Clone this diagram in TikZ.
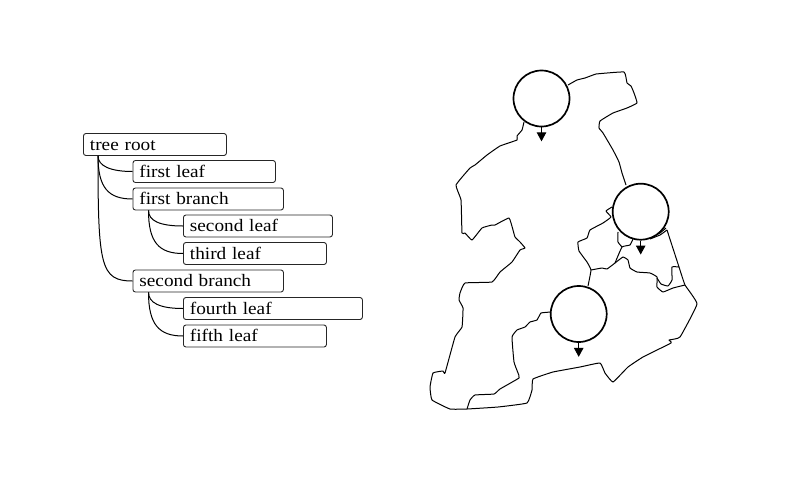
\documentclass[tikz,border=0pt]{standalone}
\usepackage{fontspec}
\setmainfont[FakeStretch=1.1]{Liberation Serif}
\usetikzlibrary{arrows.meta}
\tikzset{
  treebox/.style={draw=black!85, line width=0.9pt, rounded corners=2.5pt, anchor=west, align=left,
    inner xsep=6.5pt, inner ysep=4.5pt, text height=12.3pt, text depth=0.7pt, font=\fontsize{17.5}{20}\selectfont},
  treeline/.style={line width=1pt},
  pin/.style={circle, draw, line width=1.7pt, fill=white, inner sep=0pt, minimum size=56pt},
  pinline/.style={line width=1pt, -{Triangle[width=9.5pt,length=9pt]}},
  mapline/.style={line width=1pt, line join=round, smooth, tension=0.2}
}
\begin{document}
\begin{tikzpicture}[x=1pt,y=-1pt]
    \useasboundingbox (0,0) rectangle (794,490);

    % Arbol
    \node[treebox, text width=130pt] (root) at (83,144.5) {tree root};
    \node[treebox, text width=129.5pt] (leafa) at (132.5,171.5) {first leaf};
    \node[treebox, text width=137.5pt] (brancha) at (132.5,199) {first branch};
    \node[treebox, text width=136pt] (leafb) at (183,226) {second leaf};
    \node[treebox, text width=130pt] (leafc) at (183,253.5) {third leaf};
    \node[treebox, text width=137.5pt] (branchb) at (132.5,281) {second branch};
    \node[treebox, text width=166pt] (leafd) at (183,308.5) {fourth leaf};
    \node[treebox, text width=130pt] (leafe) at (183,336) {fifth leaf};

    % Conectores del arbol
    \foreach \from/\to/\dx/\cy/\cx in {root/leafa/15/10/22, root/brancha/15/32/24, root/branchb/15/110/32,
        brancha/leafb/16/10/24, brancha/leafc/16/32/24, branchb/leafd/16/10/24, branchb/leafe/16/32/24}
        \draw[treeline] ([xshift=\dx pt]\from.south west) .. controls +(0,\cy) and +(-\cx,0) .. (\to.west);

    % Contorno del mapa
    \draw[mapline] plot coordinates {(568,85) (577,80) (585,78) (593,75) (596,74) (624,72)
        (627,83) (631,86) (634,93) (637,103) (627,108) (613,113) (600,121) (599,128)
        (603,133) (613,150) (619,162) (622,173) (626,185)};
    \draw[mapline] plot coordinates {(524,122) (522,130) (517,136) (517,140) (500,146)
        (487,155) (475,165) (470,168) (456,185) (461,200) (462,233) (465,233) (472,240)
        (482,228) (492,225) (495,225) (509,218) (513,230) (515,237) (520,242) (525,248)
        (520,250) (512,262) (500,272) (492,282) (465,283) (460,293) (459,300) (463,308)
        (462,327) (455,337) (445,373) (443,371) (433,373) (430,387) (432,400) (450,409)
        (467,409) (498,407) (527,403) (532,390) (533,379) (553,372) (580,367) (600,363)
        (605,373) (613,382) (628,367) (643,357) (671,343) (669,340) (680,337) (697,304)
        (685,285) (679,267) (667,230)};

    % Divisiones interiores
    \draw[mapline] plot coordinates {(467,409) (470,400) (475,395) (494,394) (500,389)
        (519,378) (518,373) (514,362) (512,337) (517,330) (525,327) (530,322) (537,320)
        (541,313) (551,312)};
    \draw[mapline] plot coordinates {(588,286) (591,270) (587,262) (579,251) (578,242)
        (587,238) (590,230) (603,223) (611,217) (606,211) (612,207)};
    \draw[mapline] plot coordinates {(591,270) (602,268) (607,269) (615,263) (623,257)
        (628,260) (630,268) (637,272) (650,273) (657,277) (657,287) (663,292) (673,288) (685,285)};
    \draw[mapline] plot coordinates {(657,278) (661,284) (668,286) (672,280) (672,267) (679,267)};
    \draw[mapline] plot coordinates {(615,263) (622,247) (630,245) (633,239)};
    \draw[mapline] plot coordinates {(618,232) (618,242) (622,247)};
    \draw[mapline] plot coordinates {(650,239) (660,235) (667,230)};
    \draw[mapline] plot coordinates {(651,237) (660,233) (666,228)};

    % Marcadores
    \foreach \name/\cx/\cy in {pina/541.5/98.5, pinb/640.7/211.7, pinc/578.7/314} {
        \node[pin] (\name) at (\cx,\cy) {};
        \coordinate (\name tip) at ([yshift=-14pt]\name.south);
        \draw[pinline] (\name.south) -- (\name tip);
    }
\end{tikzpicture}
\end{document}
